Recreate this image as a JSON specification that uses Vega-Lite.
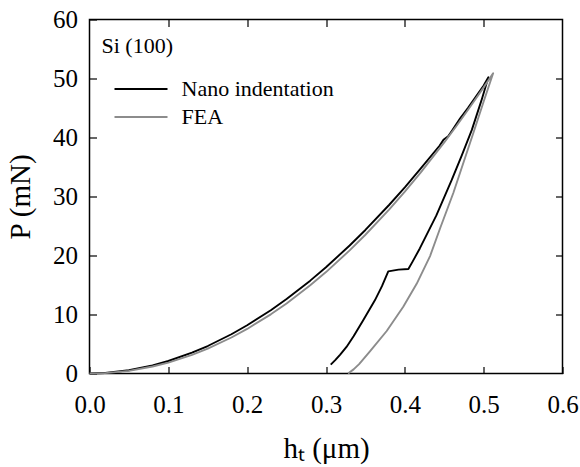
{
  "$schema": "https://vega.github.io/schema/vega-lite/v6.json",
  "width": 473,
  "height": 354,
  "autosize": {"type": "none"},
  "padding": {"left": 89.5, "top": 19.5, "right": 17.5, "bottom": 93.5},
  "background": "white",
  "config": {
    "view": {"stroke": "black", "strokeWidth": 1.5},
    "font": "Liberation Serif"
  },
  "data": {
    "values": [
      {"series": "Nano indentation", "i": 1, "h": 0.0, "P": 0.0},
      {"series": "Nano indentation", "i": 2, "h": 0.02, "P": 0.09},
      {"series": "Nano indentation", "i": 3, "h": 0.05, "P": 0.55},
      {"series": "Nano indentation", "i": 4, "h": 0.08, "P": 1.37},
      {"series": "Nano indentation", "i": 5, "h": 0.1, "P": 2.12},
      {"series": "Nano indentation", "i": 6, "h": 0.13, "P": 3.53},
      {"series": "Nano indentation", "i": 7, "h": 0.15, "P": 4.66},
      {"series": "Nano indentation", "i": 8, "h": 0.18, "P": 6.65},
      {"series": "Nano indentation", "i": 9, "h": 0.2, "P": 8.17},
      {"series": "Nano indentation", "i": 10, "h": 0.23, "P": 10.73},
      {"series": "Nano indentation", "i": 11, "h": 0.25, "P": 12.62},
      {"series": "Nano indentation", "i": 12, "h": 0.28, "P": 15.74},
      {"series": "Nano indentation", "i": 13, "h": 0.3, "P": 18.01},
      {"series": "Nano indentation", "i": 14, "h": 0.33, "P": 21.69},
      {"series": "Nano indentation", "i": 15, "h": 0.35, "P": 24.33},
      {"series": "Nano indentation", "i": 16, "h": 0.38, "P": 28.56},
      {"series": "Nano indentation", "i": 17, "h": 0.4, "P": 31.56},
      {"series": "Nano indentation", "i": 18, "h": 0.42, "P": 34.71},
      {"series": "Nano indentation", "i": 19, "h": 0.444, "P": 38.6},
      {"series": "Nano indentation", "i": 20, "h": 0.449, "P": 39.6},
      {"series": "Nano indentation", "i": 21, "h": 0.455, "P": 40.2},
      {"series": "Nano indentation", "i": 22, "h": 0.46, "P": 41.2},
      {"series": "Nano indentation", "i": 23, "h": 0.47, "P": 43.2},
      {"series": "Nano indentation", "i": 24, "h": 0.48, "P": 45.0},
      {"series": "Nano indentation", "i": 25, "h": 0.49, "P": 46.9},
      {"series": "Nano indentation", "i": 26, "h": 0.5, "P": 48.8},
      {"series": "Nano indentation", "i": 27, "h": 0.506, "P": 50.2},
      {"series": "Nano indentation", "i": 28, "h": 0.497, "P": 46.2},
      {"series": "Nano indentation", "i": 29, "h": 0.485, "P": 41.3},
      {"series": "Nano indentation", "i": 30, "h": 0.472, "P": 36.9},
      {"series": "Nano indentation", "i": 31, "h": 0.4595, "P": 32.8},
      {"series": "Nano indentation", "i": 32, "h": 0.44, "P": 26.8},
      {"series": "Nano indentation", "i": 33, "h": 0.419, "P": 21.2},
      {"series": "Nano indentation", "i": 34, "h": 0.41, "P": 19.0},
      {"series": "Nano indentation", "i": 35, "h": 0.4045, "P": 17.7},
      {"series": "Nano indentation", "i": 36, "h": 0.392, "P": 17.6},
      {"series": "Nano indentation", "i": 37, "h": 0.379, "P": 17.3},
      {"series": "Nano indentation", "i": 38, "h": 0.371, "P": 14.8},
      {"series": "Nano indentation", "i": 39, "h": 0.362, "P": 12.4},
      {"series": "Nano indentation", "i": 40, "h": 0.347, "P": 9.0},
      {"series": "Nano indentation", "i": 41, "h": 0.335, "P": 6.3},
      {"series": "Nano indentation", "i": 42, "h": 0.326, "P": 4.5},
      {"series": "Nano indentation", "i": 43, "h": 0.318, "P": 3.2},
      {"series": "Nano indentation", "i": 44, "h": 0.312, "P": 2.3},
      {"series": "Nano indentation", "i": 45, "h": 0.306, "P": 1.5},
      {"series": "FEA", "i": 1, "h": 0.0, "P": 0.0},
      {"series": "FEA", "i": 2, "h": 0.02, "P": 0.07},
      {"series": "FEA", "i": 3, "h": 0.05, "P": 0.45},
      {"series": "FEA", "i": 4, "h": 0.08, "P": 1.18},
      {"series": "FEA", "i": 5, "h": 0.1, "P": 1.85},
      {"series": "FEA", "i": 6, "h": 0.13, "P": 3.15},
      {"series": "FEA", "i": 7, "h": 0.15, "P": 4.21},
      {"series": "FEA", "i": 8, "h": 0.18, "P": 6.1},
      {"series": "FEA", "i": 9, "h": 0.2, "P": 7.55},
      {"series": "FEA", "i": 10, "h": 0.23, "P": 10.03},
      {"series": "FEA", "i": 11, "h": 0.25, "P": 11.88},
      {"series": "FEA", "i": 12, "h": 0.28, "P": 14.95},
      {"series": "FEA", "i": 13, "h": 0.3, "P": 17.19},
      {"series": "FEA", "i": 14, "h": 0.33, "P": 20.87},
      {"series": "FEA", "i": 15, "h": 0.35, "P": 23.52},
      {"series": "FEA", "i": 16, "h": 0.38, "P": 27.79},
      {"series": "FEA", "i": 17, "h": 0.4, "P": 30.84},
      {"series": "FEA", "i": 18, "h": 0.42, "P": 34.05},
      {"series": "FEA", "i": 19, "h": 0.45, "P": 39.17},
      {"series": "FEA", "i": 20, "h": 0.465, "P": 41.86},
      {"series": "FEA", "i": 21, "h": 0.48, "P": 44.65},
      {"series": "FEA", "i": 22, "h": 0.5, "P": 48.5},
      {"series": "FEA", "i": 23, "h": 0.512, "P": 50.9},
      {"series": "FEA", "i": 24, "h": 0.5, "P": 46.1},
      {"series": "FEA", "i": 25, "h": 0.487, "P": 40.8},
      {"series": "FEA", "i": 26, "h": 0.4615, "P": 30.6},
      {"series": "FEA", "i": 27, "h": 0.445, "P": 24.7},
      {"series": "FEA", "i": 28, "h": 0.432, "P": 19.9},
      {"series": "FEA", "i": 29, "h": 0.415, "P": 15.2},
      {"series": "FEA", "i": 30, "h": 0.398, "P": 11.3},
      {"series": "FEA", "i": 31, "h": 0.377, "P": 7.2},
      {"series": "FEA", "i": 32, "h": 0.356, "P": 3.8},
      {"series": "FEA", "i": 33, "h": 0.342, "P": 1.6},
      {"series": "FEA", "i": 34, "h": 0.335, "P": 0.7},
      {"series": "FEA", "i": 35, "h": 0.328, "P": 0.0}
    ]
  },
  "layer": [
    {
      "mark": {"type": "line", "strokeWidth": 1.9, "strokeJoin": "round"},
      "encoding": {
        "x": {
          "field": "h", "type": "quantitative",
          "scale": {"domain": [0, 0.6], "nice": false, "zero": false},
          "axis": {
            "orient": "bottom",
            "title": "hₜ (μm)",
            "values": [0, 0.1, 0.2, 0.3, 0.4, 0.5, 0.6],
            "format": ".1f",
            "domain": false, "grid": false,
            "tickSize": -7, "tickColor": "black", "tickWidth": 1.2,
            "labelPadding": 26, "labelFontSize": 25, "labelColor": "black",
            "labelFont": "Liberation Serif", "labelFlush": false,
            "titleFontSize": 29, "titleFont": "Liberation Serif", "titleFontWeight": "normal",
            "titleColor": "black", "titlePadding": 17
          }
        },
        "y": {
          "field": "P", "type": "quantitative",
          "scale": {"domain": [0, 60], "nice": false},
          "axis": {
            "orient": "left",
            "title": "P (mN)",
            "values": [0, 10, 20, 30, 40, 50, 60],
            "domain": false, "grid": false,
            "tickSize": -7, "tickColor": "black", "tickWidth": 1.2,
            "labelPadding": 19, "labelFontSize": 25, "labelColor": "black",
            "labelFont": "Liberation Serif", "labelFlush": false,
            "titleFontSize": 29, "titleFont": "Liberation Serif", "titleFontWeight": "normal",
            "titleColor": "black", "titlePadding": 17
          }
        },
        "color": {
          "field": "series", "type": "nominal",
          "scale": {"domain": ["Nano indentation", "FEA"], "range": ["#000000", "#8c8c8c"]},
          "legend": {
            "orient": "none", "legendX": 12, "legendY": 16.5,
            "title": "Si (100)", "titleFontSize": 22, "titleFontWeight": "normal",
            "titleFont": "Liberation Serif", "titleColor": "black", "titlePadding": 17,
            "labelFontSize": 22, "labelFont": "Liberation Serif", "labelColor": "black",
            "symbolType": "stroke", "symbolSize": 2809, "symbolStrokeWidth": 2,
            "symbolOffset": 12, "clipHeight": 28, "rowPadding": 0, "labelOffset": 13,
            "padding": 0, "labelLimit": 300
          }
        },
        "order": {"field": "i", "type": "quantitative"}
      }
    },
    {
      "mark": {"type": "line", "opacity": 0},
      "encoding": {
        "x": {
          "field": "h", "type": "quantitative",
          "axis": {
            "orient": "top", "title": null, "labels": false,
            "values": [0.1, 0.2, 0.3, 0.4, 0.5],
            "domain": false, "grid": false,
            "tickSize": -7, "tickColor": "black", "tickWidth": 1.2
          }
        },
        "y": {
          "field": "P", "type": "quantitative",
          "axis": {
            "orient": "right", "title": null, "labels": false,
            "values": [10, 20, 30, 40, 50],
            "domain": false, "grid": false,
            "tickSize": -7, "tickColor": "black", "tickWidth": 1.2
          }
        },
        "detail": {"field": "series"},
        "order": {"field": "i", "type": "quantitative"}
      }
    }
  ],
  "resolve": {"axis": {"x": "independent", "y": "independent"}}
}
